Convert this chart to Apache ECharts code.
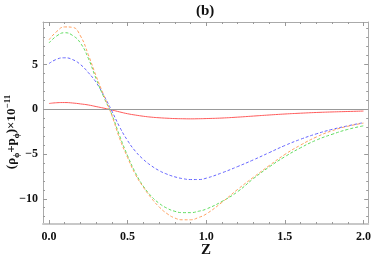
<!DOCTYPE html>
<html>
<head>
<meta charset="utf-8">
<script src="https://cdn.jsdelivr.net/npm/echarts@6/dist/echarts.min.js"></script>
<style>html,body{margin:0;padding:0;background:#fff}#c{width:374px;height:259px}</style>
</head>
<body>
<div id="c"></div>
<script>
const zValues = [0, 0.05, 0.1, 0.15, 0.2, 0.25, 0.3, 0.35, 0.4, 0.45, 0.5, 0.55, 0.6, 0.65, 0.7, 0.75, 0.8, 0.85, 0.9, 0.95, 1.0, 1.1, 1.2, 1.3, 1.4, 1.5, 1.6, 1.7, 1.8, 1.9, 2.0];
const redValues = [0.64, 0.73, 0.75, 0.7, 0.6, 0.48, 0.3, 0.12, -0.08, -0.3, -0.5, -0.65, -0.78, -0.88, -0.95, -1.0, -1.04, -1.06, -1.07, -1.06, -1.04, -0.98, -0.88, -0.76, -0.64, -0.53, -0.44, -0.36, -0.3, -0.25, -0.2];
const blueValues = [5.1, 5.6, 5.75, 5.55, 5.0, 4.1, 3.0, 1.5, -0.2, -2.0, -3.5, -4.7, -5.6, -6.3, -6.85, -7.25, -7.55, -7.75, -7.85, -7.85, -7.7, -7.1, -6.4, -5.65, -4.85, -4.05, -3.35, -2.75, -2.25, -1.85, -1.5];
const greenValues = [7.4, 8.2, 8.55, 8.25, 7.4, 5.7, 3.4, 1.3, -0.6, -3.0, -5.2, -7.1, -8.6, -9.7, -10.5, -11.05, -11.4, -11.55, -11.55, -11.4, -11.15, -10.3, -9.2, -7.75, -6.45, -5.3, -4.3, -3.45, -2.8, -2.25, -1.85];
const orangeValues = [7.75, 8.7, 9.2, 9.15, 8.2, 6.1, 3.7, 1.5, -0.7, -3.3, -5.4, -7.3, -8.7, -9.9, -10.9, -11.65, -12.15, -12.35, -12.35, -12.1, -11.7, -10.4, -8.95, -7.6, -6.3, -5.05, -4.0, -3.1, -2.4, -1.9, -1.55];
const xMajorTicks = [0, 0.5, 1.0, 1.5, 2.0];
const yMajorTicks = [-10, -5, 0, 5];

const xMinorTicks = [];
for (let i = 0; i <= 20; i++) { if (i % 5 !== 0) xMinorTicks.push(i / 10); }
const yMinorTicks = [];
for (let v = -12; v <= 9; v++) { if (v % 5 !== 0) yMinorTicks.push(v); }

const pairs = vals => zValues.map((z, i) => [z, vals[i]]);
const serif = 'Liberation Serif, Times New Roman, serif';
const XMIN = -0.038, XMAX = 2.03, YMIN = -12.82, YMAX = 9.75;

function xAx(pos, ticks, len, labels, lineShow, lineW, lineC) {
  return {
    type: 'value', position: pos, min: XMIN, max: XMAX,
    axisLine: { show: lineShow, onZero: false, lineStyle: { color: lineC, width: lineW } },
    axisTick: { show: true, inside: true, length: len, customValues: ticks, lineStyle: { color: '#999', width: 1 } },
    axisLabel: labels ? { show: true, customValues: ticks, margin: 7, color: '#111', fontFamily: serif, fontWeight: 'bold', fontSize: 12, formatter: v => v.toFixed(1) } : { show: false },
    splitLine: { show: false }
  };
}
function yAx(pos, ticks, len, labels, lineShow, lineW, lineC) {
  return {
    type: 'value', position: pos, min: YMIN, max: YMAX,
    axisLine: { show: lineShow, onZero: false, lineStyle: { color: lineC, width: lineW } },
    axisTick: { show: true, inside: true, length: len, customValues: ticks, lineStyle: { color: '#999', width: 1 } },
    axisLabel: labels ? { show: true, customValues: ticks, margin: 5, color: '#111', fontFamily: serif, fontWeight: 'bold', fontSize: 12, formatter: v => (v < 0 ? '\u2212' + Math.abs(v) : String(v)) } : { show: false },
    splitLine: { show: false }
  };
}

const chart = echarts.init(document.getElementById('c'), null, { renderer: 'canvas' });
chart.setOption({
  animation: false,
  grid: { left: 43, right: 2, top: 22, bottom: 35, containLabel: false },
  xAxis: [
    xAx('bottom', xMajorTicks, 4, true, true, 2, '#c8c8c8'),
    xAx('bottom', xMinorTicks, 2, false, false, 1, '#aaa'),
    xAx('top', xMajorTicks, 4, false, true, 1, '#aaa'),
    xAx('top', xMinorTicks, 2, false, false, 1, '#aaa')
  ],
  yAxis: [
    yAx('left', yMajorTicks, 4, true, true, 1, '#aaa'),
    yAx('left', yMinorTicks, 2, false, false, 1, '#aaa'),
    yAx('right', yMajorTicks, 4, false, true, 1, '#aaa'),
    yAx('right', yMinorTicks, 2, false, false, 1, '#aaa')
  ],
  graphic: [
    { type: 'text', left: 196, top: 4, style: { text: '(b)', font: 'bold 15px ' + serif, fill: '#111' } },
    { type: 'text', left: 201, top: 243, style: { text: 'Z', font: 'bold 15px ' + serif, fill: '#111' } },
    {
      type: 'text', x: 12, y: 132, rotation: Math.PI / 2,
      style: {
        text: '(\u03c1{sub|\u03d5}+p{sub|\u03d5})\u00d710{sup|\u221211}',
        align: 'center', verticalAlign: 'middle',
        font: 'bold 13px ' + serif, fill: '#111',
        rich: {
          sub: { fontSize: 8, fontWeight: 'bold', fontFamily: serif, verticalAlign: 'bottom', lineHeight: 18, padding: [6, 0, 0, 0] },
          sup: { fontSize: 9, fontWeight: 'bold', fontFamily: serif, verticalAlign: 'top', lineHeight: 18, padding: [0, 0, 6, 0] }
        }
      }
    }
  ],
  series: [
    { type: 'line', data: pairs(redValues), smooth: true, showSymbol: false, lineStyle: { color: '#ff5a5a', width: 1 },
      markLine: { silent: true, symbol: 'none', label: { show: false }, lineStyle: { color: '#999', type: 'solid', width: 1 }, data: [{ yAxis: 0 }] } },
    { type: 'line', data: pairs(blueValues), smooth: true, showSymbol: false, lineStyle: { color: '#6464ff', width: 1, type: [3, 2] } },
    { type: 'line', data: pairs(greenValues), smooth: true, showSymbol: false, lineStyle: { color: '#5fdc5f', width: 1, type: [3, 2] } },
    { type: 'line', data: pairs(orangeValues), smooth: true, showSymbol: false, lineStyle: { color: '#ffa05f', width: 1, type: [3, 2] } }
  ]
});
</script>
</body>
</html>
